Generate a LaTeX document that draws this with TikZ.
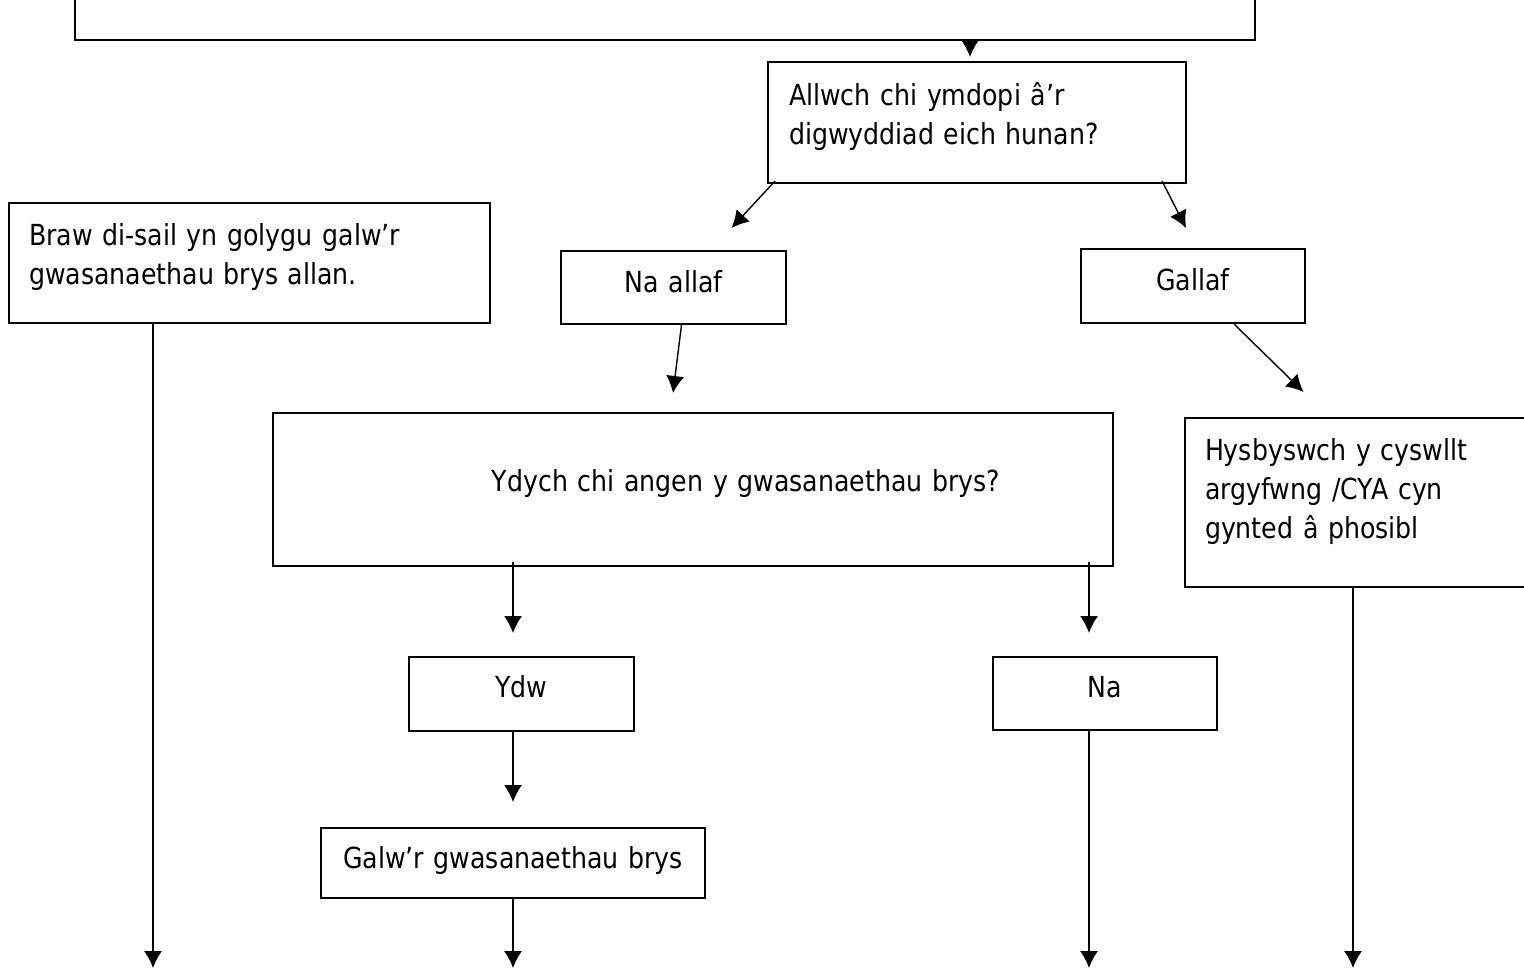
\documentclass[tikz,border=0pt]{standalone}
\usepackage{fontspec}
\setmainfont{DejaVu Sans}[FakeStretch=0.87]
\usepackage{tikz}
\usetikzlibrary{arrows.meta,calc}

\newcommand\flowfont{\fontsize{14.5}{19.5}\selectfont}
\tikzset{
  box/.style={draw, line width=1pt, inner ysep=0pt, font=\flowfont},
  leftbox/.style={box, align=left, inner xsep=10pt},
  midbox/.style={box, align=center, inner xsep=5pt},
  arr/.style={->, line width=0.7pt}
}

\begin{document}
\begin{tikzpicture}[x=0.5pt, y=-0.5pt, >={Latex[length=8.5pt,width=9pt]}]
\useasboundingbox (0,0) rectangle (1524,969);
\clip (0,0) rectangle (1524,969);

\node (topbox) [box, minimum width=590pt, minimum height=50pt] at (665,-10) {};
\node (cope) [leftbox, inner xsep=10.5pt, text width=188pt, text height=21.5pt,
  text depth=39pt] at (977,122.5)
  {Allwch chi ymdopi â’r\\digwyddiad eich hunan?};
\node (naallaf) [midbox, text width=102.5pt, text height=20.5pt, text depth=16pt]
  at (673.5,287.5) {Na allaf};
\node (gallaf) [midbox, text width=102pt, text height=20.5pt, text depth=16.5pt]
  at (1193,286) {Gallaf};
\node (braw) [leftbox, text width=220.5pt, text height=21pt, text depth=39pt]
  at (249.5,263)
  {Braw di-sail yn golygu galw’r\\gwasanaethau brys allan.};
\node (need) [box, align=center, inner xsep=0pt, text width=420pt, text height=39pt,
  text depth=37.5pt] at (693,489.5)
  {\hspace*{53pt}Ydych chi angen y gwasanaethau brys?};
\node (hysbys) [leftbox, text width=174.5pt, text height=21pt, text depth=63.5pt]
  at (1379.5,502.5)
  {Hysbyswch y cyswllt\\argyfwng /CYA cyn\\gynted â phosibl};
\node (ydw) [midbox, text width=102.5pt, text height=20pt, text depth=17pt]
  at (521.5,694) {Ydw};
\node (na) [midbox, text width=102pt, text height=20pt, text depth=16.5pt]
  at (1105,693.5) {Na};
\node (galw) [midbox, text width=182pt, text height=20pt, text depth=15pt]
  at (513,863) {Galw’r gwasanaethau brys};

\coordinate (brawout) at (153,968);
\coordinate (galwout) at (513,968);
\coordinate (naout) at (1089,968);
\coordinate (hysbysout) at (1353,968);

\draw[arr] ($(topbox.south)+(305,0)$) -- ($(cope.north)+(-7,-4)$);
\draw[arr] ($(cope.south west)+(8,-3)$) -- ($(naallaf.north)+(58,-22)$);
\draw[arr] ($(cope.south east)+(-25,-3)$) -- ($(gallaf.north)+(-7,-20)$);
\draw[arr] ($(naallaf.south)+(8,0)$) -- ($(need.north)+(-20,-19)$);
\draw[arr] ($(gallaf.south)+(41,0)$) -- ($(hysbys.north)+(-76,-25)$);
\draw[arr] ($(need.south)+(-180,-5)$) -- ($(ydw.north)+(-8.5,-23)$);
\draw[arr] ($(need.south)+(396,-5)$) -- ($(na.north)+(-16,-23)$);
\draw[arr] ($(ydw.south)+(-8.5,0)$) -- ($(galw.north)+(0,-25)$);
\draw[arr] (braw.south -| brawout) -- (brawout);
\draw[arr] (galw.south) -- (galwout);
\draw[arr] (na.south -| naout) -- (naout);
\draw[arr] (hysbys.south -| hysbysout) -- (hysbysout);
\end{tikzpicture}
\end{document}
